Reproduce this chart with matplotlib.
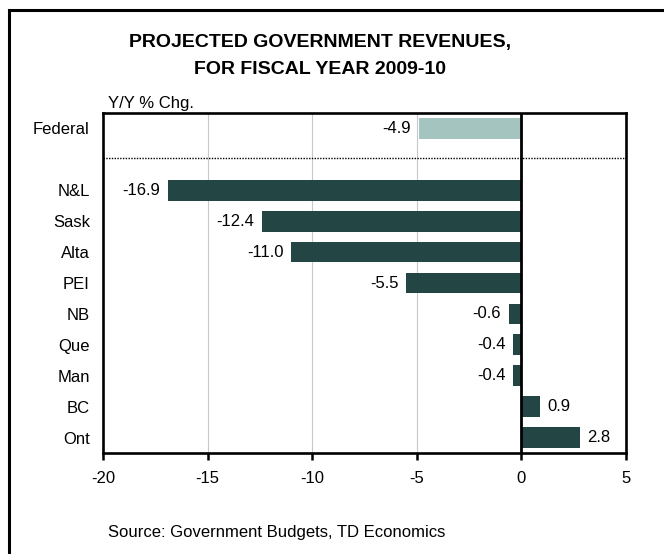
import matplotlib
matplotlib.use("Agg")
import matplotlib.pyplot as plt
from matplotlib.patches import Rectangle

plt.rcParams['font.family'] = ['Liberation Sans', 'DejaVu Sans']

# revenue growth, y/y % change, fiscal 2009-10
federal_label = "Federal"
federal_value = -4.9
provinces = ["N&L", "Sask", "Alta", "PEI", "NB", "Que", "Man", "BC", "Ont"]
prov_values = [-16.9, -12.4, -11.0, -5.5, -0.6, -0.4, -0.4, 0.9, 2.8]
xticks = [-20, -15, -10, -5, 0, 5]

dark = "#234544"
light = "#a3c4bf"

W, H = 664, 554
fig = plt.figure(figsize=(W / 100, H / 100), dpi=100)

# plot box in pixels: left 103, right 626, top 113, bottom 453
ax = fig.add_axes([103 / W, 1 - 453 / H, (626 - 103) / W, (453 - 113) / H])

# federal on top, then an empty slot, then the provinces
fed_pos = 0
prov_pos = list(range(2, 2 + len(provinces)))

ax.barh(fed_pos, federal_value, height=0.67, color=light, zorder=3)
ax.barh(prov_pos, prov_values, height=0.67, color=dark, zorder=3)

def label_bar(y, v):
    off = -5.5 if v < 0 else 5
    ax.annotate(f"{v:.1f}", (v, y), xytext=(off, 0), textcoords="offset points",
                ha="right" if v < 0 else "left", va="center", fontsize=12, zorder=4)

label_bar(fed_pos, federal_value)
for y, v in zip(prov_pos, prov_values):
    label_bar(y, v)

ax.set_xlim(-20, 5)
ax.set_ylim(len(provinces) + 1.5, -0.5)
ax.set_xticks(xticks)
ax.set_xticklabels([str(t) for t in xticks], fontsize=12)
ax.set_yticks([fed_pos] + prov_pos)
ax.set_yticklabels([federal_label] + provinces, fontsize=12)

ax.tick_params(axis="y", length=0, pad=9.5)
ax.tick_params(axis="x", direction="out", length=5, width=1.8, pad=8)

for x in [-15, -10, -5]:
    ax.axvline(x, color="#c8c8c8", lw=0.8, zorder=1)
ax.axvline(0, color="black", lw=2.0, zorder=5)
ax.axhline(0.95, color="black", lw=1.0, ls=(0, (1, 1)), zorder=2)

for s in ax.spines.values():
    s.set_linewidth(1.9)

fig.text(320 / W, 1 - 47 / H, "PROJECTED GOVERNMENT REVENUES,", ha="center",
         va="baseline", fontsize=14, fontweight="bold")
fig.text(320 / W, 1 - 74 / H, "FOR FISCAL YEAR 2009-10", ha="center",
         va="baseline", fontsize=14, fontweight="bold")
fig.text(108 / W, 1 - 108 / H, "Y/Y % Chg.", ha="left", va="baseline", fontsize=12)
fig.text(108 / W, 1 - 537 / H, "Source: Government Budgets, TD Economics",
         ha="left", va="baseline", fontsize=12)

# outer border, runs off the right and bottom edges
fig.patches.append(Rectangle((8.5 / W, -0.2), 1.5, 1 - 10 / H + 0.2,
                             transform=fig.transFigure, fill=False,
                             edgecolor="black", lw=2.2))

fig.savefig("out.png", dpi=100)
